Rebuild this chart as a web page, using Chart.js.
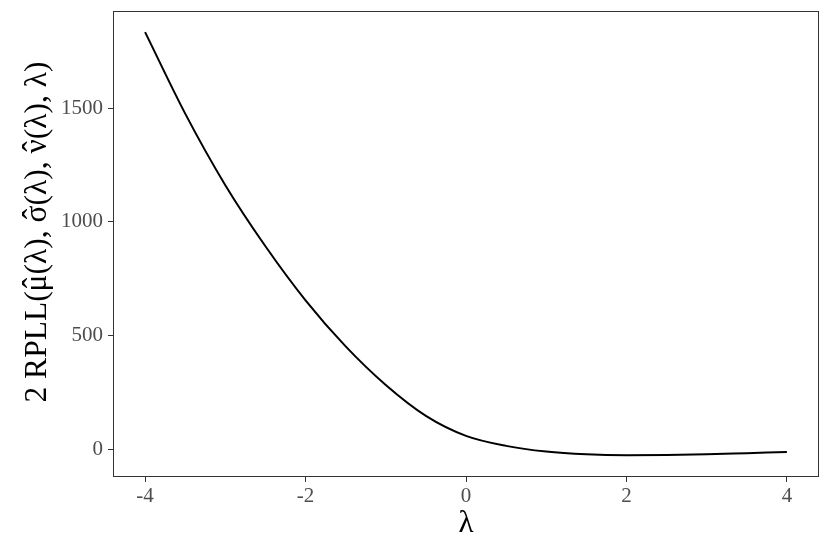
<!DOCTYPE html>
<html>
<head>
<meta charset="utf-8">
<script src="https://cdn.jsdelivr.net/npm/chart.js@4/dist/chart.umd.min.js"></script>
<style>
html, body { margin: 0; padding: 0; background: #ffffff; }
#wrap { width: 830px; height: 554px; }
</style>
</head>
<body>
<div id="wrap"><canvas id="c" width="830" height="554"></canvas></div>
<script>
const lambdaVals = [-4, -3.5, -3, -2.5, -2, -1.5, -1, -0.5, 0, 0.5, 1, 1.5, 2, 2.5, 3, 3.5, 4];
const rpllVals   = [1836, 1477, 1162, 893, 655, 452, 282, 146, 58, 14, -11, -23, -27, -26, -23, -18, -13];
const xTicks = [-4, -2, 0, 2, 4];
const yTicks = [0, 500, 1000, 1500];
const xTitle = 'λ';
// y title pieces: plain text and letters that carry a hat
const yTitleParts = ['2 RPLL(', { hat: 'μ' }, '(λ), ', { hat: 'σ' }, '(λ), ', { hat: 'ν' }, '(λ), λ)'];

const points = lambdaVals.map((x, i) => ({ x: x, y: rpllVals[i] }));

const serif = '"Liberation Serif", "Times New Roman", serif';
const tickFont = { family: serif, size: 21 };
const titleFont = { family: serif, size: 31 };

const borderPlugin = {
  id: 'panelBorder',
  afterDatasetsDraw(chart) {
    const a = chart.chartArea;
    const ctx = chart.ctx;
    ctx.save();
    ctx.strokeStyle = '#333333';
    ctx.lineWidth = 1;
    ctx.strokeRect(Math.round(a.left) + 0.5, Math.round(a.top) + 0.5,
                   Math.round(a.right - a.left) - 1, Math.round(a.bottom - a.top) - 1);
    ctx.restore();
  }
};

const yTitlePlugin = {
  id: 'yTitle',
  afterDraw(chart) {
    const a = chart.chartArea;
    const ctx = chart.ctx;
    ctx.save();
    ctx.font = '31.5px ' + serif;
    ctx.fillStyle = '#000000';
    ctx.textBaseline = 'alphabetic';
    ctx.textAlign = 'left';
    const hatGlyph = 'ˆ';
    const widths = yTitleParts.map(p => ctx.measureText(typeof p === 'string' ? p : p.hat).width);
    const total = widths.reduce((s, w) => s + w, 0);
    const cy = (a.top + a.bottom) / 2 - 12;
    ctx.translate(46, cy);
    ctx.rotate(-Math.PI / 2);
    let x = -total / 2;
    yTitleParts.forEach((p, i) => {
      if (typeof p === 'string') {
        ctx.fillText(p, x, 0);
      } else {
        ctx.fillText(p.hat, x, 0);
        const hw = ctx.measureText(hatGlyph).width;
        ctx.fillText(hatGlyph, x + widths[i] / 2 - hw / 2, -2);
      }
      x += widths[i];
    });
    ctx.restore();
  }
};

new Chart(document.getElementById('c'), {
  type: 'line',
  data: {
    datasets: [{
      data: points,
      borderColor: '#000000',
      borderWidth: 2,
      pointRadius: 0,
      fill: false,
      cubicInterpolationMode: 'monotone'
    }]
  },
  options: {
    responsive: false,
    animation: false,
    devicePixelRatio: 1,
    layout: { padding: { top: 11, right: 11, left: 0, bottom: 0 } },
    plugins: { legend: { display: false }, tooltip: { enabled: false } },
    scales: {
      x: {
        type: 'linear',
        min: -4.4,
        max: 4.4,
        afterBuildTicks(scale) { scale.ticks = xTicks.map(v => ({ value: v })); },
        afterFit(scale) { scale.height = 77; scale.paddingLeft = 0; scale.paddingRight = 0; },
        grid: { drawOnChartArea: false, drawTicks: true, tickLength: 5, tickColor: '#333333', tickWidth: 1 },
        border: { display: false },
        ticks: { color: '#4d4d4d', font: tickFont, padding: 2, maxRotation: 0, callback: v => String(v) },
        title: { display: true, text: xTitle, color: '#000000', font: titleFont, padding: { top: 0, bottom: 12 } }
      },
      y: {
        type: 'linear',
        min: -123,
        max: 1929,
        afterBuildTicks(scale) { scale.ticks = yTicks.map(v => ({ value: v })); },
        afterFit(scale) { scale.width = 113; scale.paddingTop = 0; scale.paddingBottom = 0; },
        grid: { drawOnChartArea: false, drawTicks: true, tickLength: 5, tickColor: '#333333', tickWidth: 1 },
        border: { display: false },
        ticks: { color: '#4d4d4d', font: tickFont, padding: 5, callback: v => String(v) },
        title: { display: false }
      }
    }
  },
  plugins: [borderPlugin, yTitlePlugin]
});
</script>
</body>
</html>
